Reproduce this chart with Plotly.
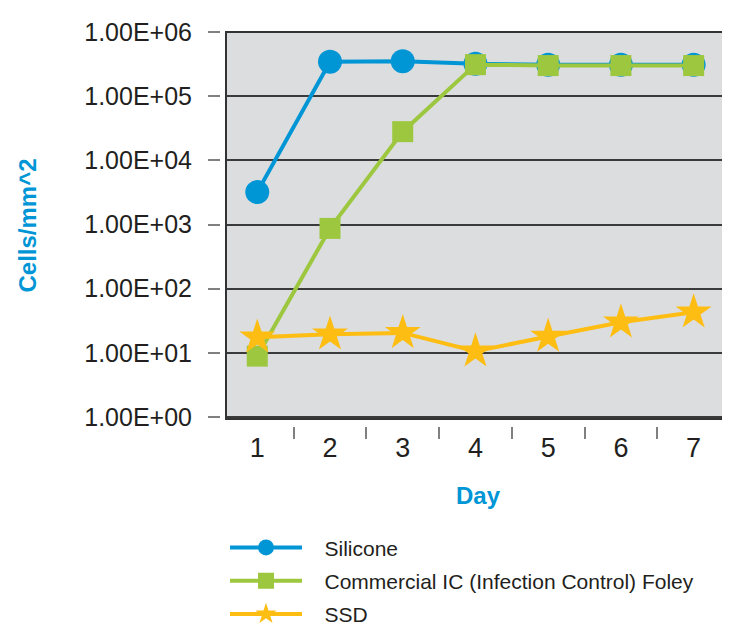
import plotly.graph_objects as go

days = [1, 2, 3, 4, 5, 6, 7]
day_labels = ["1", "2", "3", "4", "5", "6", "7"]
silicone = [3.2e3, 3.45e5, 3.5e5, 3.2e5, 3.1e5, 3.1e5, 3.1e5]
commercial_ic = [8.9, 8.7e2, 2.8e4, 3.1e5, 3.0e5, 3.0e5, 3.0e5]
ssd = [17.5, 19.5, 20.5, 10.6, 18.0, 30.0, 43.0]
y_tickvals = [1, 10, 100, 1e3, 1e4, 1e5, 1e6]
y_ticktext = ["1.00E+00", "1.00E+01", "1.00E+02", "1.00E+03", "1.00E+04", "1.00E+05", "1.00E+06"]
separators = [1.5, 2.5, 3.5, 4.5, 5.5, 6.5]
series_names = ["Silicone", "Commercial IC (Infection Control) Foley", "SSD"]

FONT = "Liberation Sans, Arial, sans-serif"
PAD = "\u00a0\u00a0\u00a0"

fig = go.Figure()
fig.add_trace(go.Scatter(x=days, y=silicone, name=PAD + series_names[0], mode="lines+markers",
                         legendgroup="a",
                         line=dict(color="#0096D6", width=4),
                         marker=dict(symbol="circle", size=24, color="#0096D6")))
fig.add_trace(go.Scatter(x=days, y=commercial_ic, name=PAD + series_names[1],
                         mode="lines+markers", legendgroup="b",
                         line=dict(color="#9DC73F", width=4),
                         marker=dict(symbol="square", size=21, color="#9DC73F")))
fig.add_trace(go.Scatter(x=days, y=ssd, name=PAD + series_names[2], mode="lines+markers",
                         legendgroup="c",
                         line=dict(color="#FDBD13", width=4),
                         marker=dict(symbol="star", size=27, color="#FDBD13")))
# separator ticks between day categories (overlay axis)
fig.add_trace(go.Scatter(x=separators, y=[None] * len(separators), xaxis="x2",
                         showlegend=False, hoverinfo="skip"))

fig.update_layout(
    width=722, height=620,
    margin=dict(l=212, r=0, t=24, b=202, autoexpand=False),
    paper_bgcolor="white", plot_bgcolor="#DCDDDF",
    font=dict(family=FONT, color="#231F20"),
    xaxis=dict(domain=[6 / 510, 1], range=[0.57, 7.5], tickvals=days, ticktext=day_labels,
               ticks="", showgrid=False, zeroline=False, showline=False,
               ticklabelstandoff=10,
               tickfont=dict(size=27, family=FONT, color="#231F20"),
               title=dict(text="<b>Day</b>", font=dict(size=24, family=FONT, color="#0096D6"),
                          standoff=25)),
    xaxis2=dict(overlaying="x", anchor="free", position=0, domain=[6 / 510, 1],
                range=[0.57, 7.5], tickvals=separators, showticklabels=False,
                ticks="outside", ticklen=12, tickwidth=1.5, tickcolor="#808080",
                showgrid=False, zeroline=False, showline=False),
    yaxis=dict(type="log", range=[-0.03, 6], domain=[7 / 394, 1], anchor="free", position=0,
               tickvals=y_tickvals, ticktext=y_ticktext, ticks="outside", ticklen=12,
               tickwidth=1.5, tickcolor="#808080", ticklabelstandoff=11,
               showgrid=True, gridcolor="#3A3A3A", gridwidth=1.5,
               zeroline=False, showline=False,
               tickfont=dict(size=25, family=FONT, color="#231F20"),
               title=dict(text="<b>Cells/mm^2</b>", font=dict(size=24, family=FONT, color="#0096D6"),
                          standoff=39)),
    legend=dict(orientation="v", x=5 / 510, xanchor="left", y=-0.257, yanchor="top",
                font=dict(size=21, family=FONT, color="#231F20"),
                itemwidth=72, bgcolor="rgba(0,0,0,0)", tracegroupgap=3),
    showlegend=True,
    shapes=[dict(type="rect", xref="x domain", yref="y domain", x0=0, x1=1, y0=0, y1=1,
                 line=dict(color="#333333", width=2), fillcolor="rgba(0,0,0,0)", layer="above")],
)

fig.write_html("out.html")
